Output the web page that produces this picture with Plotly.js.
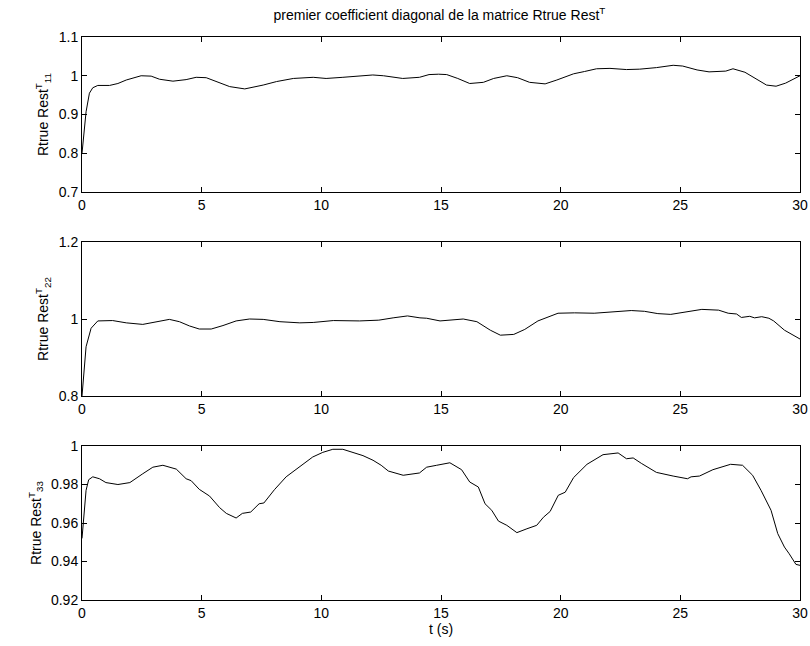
<!DOCTYPE html>
<html>
<head>
<meta charset="utf-8">
<script src="https://cdn.plot.ly/plotly-3.0.1.min.js"></script>
<style>html,body{margin:0;padding:0;background:#fff}#chart{width:810px;height:646px}</style>
</head>
<body>
<div id="chart"></div>
<script>
// ---- data ----
const t11 = [0,0.1,0.17,0.31,0.45,0.66,1.15,1.5,1.85,2.47,2.89,3.24,3.8,4.35,4.77,5.19,5.61,6.17,6.8,7.15,7.57,8.13,8.83,9.66,10.2,10.9,12.15,12.6,13.4,14.1,14.5,14.9,15.24,15.7,16.2,16.77,17.2,17.75,18.2,18.7,19.35,19.84,20.54,21.0,21.5,22.06,22.75,23.3,24.0,24.7,25.1,25.7,26.2,26.9,27.2,27.7,28.2,28.6,29.0,29.4,30.0];
const r11 = [0.80,0.86,0.907,0.955,0.969,0.975,0.975,0.98,0.989,1.0,0.999,0.991,0.986,0.99,0.996,0.995,0.985,0.972,0.966,0.97,0.976,0.985,0.993,0.996,0.993,0.996,1.002,1.0,0.993,0.996,1.003,1.004,1.003,0.993,0.980,0.983,0.993,1.0,0.995,0.983,0.979,0.989,1.005,1.011,1.018,1.019,1.016,1.017,1.021,1.027,1.025,1.015,1.01,1.012,1.018,1.009,0.99,0.976,0.973,0.981,1.0];

const t22 = [0,0.17,0.38,0.66,1.28,1.85,2.54,3.1,3.65,4.07,4.49,4.9,5.4,5.89,6.44,7.0,7.57,8.27,9.1,9.66,10.5,11.6,12.4,13.0,13.6,14.12,14.4,14.96,15.37,15.93,16.5,17.06,17.48,18.04,18.5,19.05,19.89,20.58,21.4,21.98,22.95,23.5,24.06,24.6,25.2,25.9,26.6,27.0,27.35,27.55,27.9,28.1,28.4,28.7,28.9,29.35,30.0];
const r22 = [0.80,0.928,0.976,0.995,0.996,0.99,0.986,0.993,0.999,0.993,0.982,0.974,0.974,0.983,0.995,1.0,0.999,0.993,0.99,0.991,0.996,0.995,0.997,1.003,1.008,1.003,1.002,0.995,0.997,1.0,0.993,0.971,0.958,0.96,0.973,0.995,1.015,1.016,1.015,1.017,1.022,1.02,1.014,1.012,1.018,1.025,1.023,1.015,1.013,1.004,1.007,1.003,1.006,1.002,0.995,0.971,0.948];

const t33 = [0,0.17,0.28,0.45,0.73,1.0,1.5,2.0,2.54,2.96,3.38,3.94,4.35,4.56,4.9,5.33,5.75,6.03,6.44,6.7,7.05,7.4,7.6,8.04,8.53,9.09,9.64,10.06,10.48,10.9,11.25,11.74,12.16,12.5,12.8,13.42,14.1,14.4,14.82,15.37,15.86,16.2,16.56,16.84,17.12,17.4,17.75,18.17,18.59,19.0,19.28,19.56,19.9,20.19,20.54,21.1,21.77,22.4,22.75,23.03,23.37,24.0,24.7,25.3,25.45,25.8,26.36,27.1,27.6,28.02,28.37,28.79,29.07,29.35,29.55,29.83,30.0];
const r33 = [0.952,0.977,0.9825,0.984,0.983,0.981,0.980,0.981,0.9856,0.989,0.990,0.988,0.983,0.982,0.9775,0.974,0.968,0.965,0.9626,0.965,0.9657,0.970,0.9704,0.9773,0.984,0.989,0.9943,0.9967,0.9983,0.9983,0.997,0.995,0.9926,0.990,0.987,0.9848,0.986,0.989,0.990,0.9913,0.9877,0.9813,0.9787,0.970,0.9666,0.961,0.9588,0.955,0.957,0.9588,0.963,0.966,0.9744,0.976,0.9836,0.9905,0.9955,0.9964,0.9934,0.9938,0.991,0.9863,0.9844,0.983,0.984,0.9844,0.9877,0.9905,0.990,0.9848,0.977,0.9666,0.9545,0.9475,0.944,0.9385,0.938];

const xTicks = [0,5,10,15,20,25,30];
const y1Ticks = [0.7,0.8,0.9,1.0,1.1];
const y1Text = ['0.7','0.8','0.9','1','1.1'];
const y2Ticks = [0.8,1.0,1.2];
const y2Text = ['0.8','1','1.2'];
const y3Ticks = [0.92,0.94,0.96,0.98,1.0];
const y3Text = ['0.92','0.94','0.96','0.98','1'];

const titleText = 'premier coefficient diagonal de la matrice Rtrue Rest<sup>T</sup>';
const y1Title = 'Rtrue Rest<sup>T</sup><sub>11</sub>';
const y2Title = 'Rtrue Rest<sup>T</sup><sub>22</sub>';
const y3Title = 'Rtrue Rest<sup>T</sup><sub>33</sub>';
const xTitle = 't (s)';

const FONT = 'Liberation Sans, Arial, sans-serif';
const lineStyle = {color:'#000', width:1};

const traces = [
  {x:t11, y:r11, xaxis:'x', yaxis:'y', mode:'lines', line:lineStyle, hoverinfo:'skip'},
  {x:t22, y:r22, xaxis:'x2', yaxis:'y2', mode:'lines', line:lineStyle, hoverinfo:'skip'},
  {x:t33, y:r33, xaxis:'x3', yaxis:'y3', mode:'lines', line:lineStyle, hoverinfo:'skip'}
];

function xa(anchor){
  return {anchor:anchor, range:[0,30], tickvals:xTicks, ticktext:xTicks.map(String),
    ticks:'inside', ticklen:5, tickcolor:'#000', tickwidth:1, mirror:'allticks',
    showline:true, linecolor:'#000', linewidth:1, showgrid:false, zeroline:false,
    tickfont:{family:FONT, size:14, color:'#000'}};
}
function ya(anchor, domain, range, vals, text, title){
  return {anchor:anchor, domain:domain, range:range, tickvals:vals, ticktext:text,
    ticks:'inside', ticklen:5, tickcolor:'#000', tickwidth:1, mirror:'allticks',
    showline:true, linecolor:'#000', linewidth:1, showgrid:false, zeroline:false,
    tickfont:{family:FONT, size:14, color:'#000'},
    title:{text:title, font:{family:FONT, size:14, color:'#000'}, standoff:6}};
}

const layout = {
  width:810, height:646,
  margin:{l:82, r:10, t:37, b:46},
  paper_bgcolor:'#fff', plot_bgcolor:'#fff',
  showlegend:false,
  title:{text:titleText, font:{family:FONT, size:14, color:'#000'}, x:0.5425, xanchor:'center', y:0.977, yanchor:'middle'},
  xaxis: xa('y'),
  xaxis2: xa('y2'),
  xaxis3: Object.assign(xa('y3'), {title:{text:xTitle, font:{family:FONT, size:14, color:'#000'}, standoff:2}}),
  yaxis: ya('x', [0.7247,1], [0.7,1.1], y1Ticks, y1Text, y1Title),
  yaxis2: ya('x2', [0.3623,0.6359], [0.8,1.2], y2Ticks, y2Text, y2Title),
  yaxis3: ya('x3', [0,0.2735], [0.92,1.0], y3Ticks, y3Text, y3Title)
};

Plotly.newPlot('chart', traces, layout, {staticPlot:true, displayModeBar:false});
</script>
</body>
</html>
